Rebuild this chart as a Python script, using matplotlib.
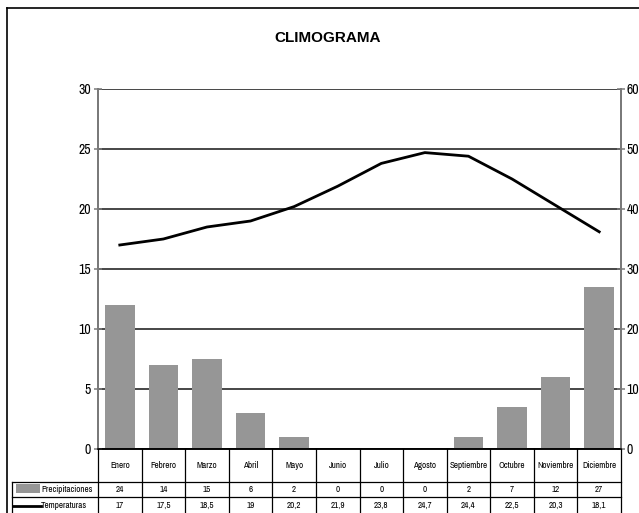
import matplotlib
matplotlib.use("Agg")
import matplotlib.pyplot as plt
import matplotlib.transforms as mtransforms
from matplotlib.patches import Rectangle
from matplotlib.lines import Line2D

months = ["Enero", "Febrero", "Marzo", "Abril", "Mayo", "Junio", "Julio",
          "Agosto", "Septiembre", "Octubre", "Noviembre", "Diciembre"]
precip = [24, 14, 15, 6, 2, 0, 0, 0, 2, 7, 12, 27]
temps = [17, 17.5, 18.5, 19, 20.2, 21.9, 23.8, 24.7, 24.4, 22.5, 20.3, 18.1]
temp_ticks = [0, 5, 10, 15, 20, 25, 30]
precip_ticks = [0, 10, 20, 30, 40, 50, 60]

W, H = 639, 513
BAR_COLOR = "#969696"
AXIS_COLOR = "#7a7a7a"
NARROW = ["Archivo Narrow", "PT Sans Narrow", "DejaVu Sans"]

plt.rcParams["font.family"] = NARROW


def fx(px):
    return px / W


def fy(py):
    return 1 - py / H


def fmt(v):
    return f"{v:g}".replace(".", ",")


fig = plt.figure(figsize=(W / 100, H / 100), dpi=100)

# plot area
ax = fig.add_axes([fx(98), fy(449), (621 - 98) / W, (449 - 89) / H])
ax2 = ax.twinx()
x = list(range(len(months)))

ax2.bar(x, precip, width=0.68, color=BAR_COLOR, zorder=2)
ax2.set_ylim(0, 60)
ax2.set_yticks(precip_ticks)
ax2.yaxis.grid(True, color="#151515", linewidth=1.1)
ax2.set_axisbelow(True)

ax.plot(x, temps, color="black", linewidth=2, zorder=5)
ax.set_ylim(0, 30)
ax.set_yticks(temp_ticks)
ax.set_xlim(-0.5, len(months) - 0.5)
ax.set_xticks([])
ax.set_zorder(ax2.get_zorder() + 1)
ax.patch.set_visible(False)

for a in (ax, ax2):
    for s in a.spines.values():
        s.set_color(AXIS_COLOR)
        s.set_linewidth(1.4)
    a.spines["top"].set_visible(False)
    a.spines["bottom"].set_color("black")
    a.spines["bottom"].set_linewidth(1.1)
ax.tick_params(axis="y", direction="inout", length=6, width=1.1, pad=2,
               labelsize=10, colors=AXIS_COLOR, labelcolor="black")
ax2.tick_params(axis="y", direction="inout", length=6, width=1.1, pad=1,
                labelsize=10, colors=AXIS_COLOR, labelcolor="black")

fig.text(fx(328), fy(38), "CLIMOGRAMA", ha="center", va="center",
         fontsize=11, fontweight="bold", family=["Liberation Sans", "DejaVu Sans"])

# data table under the plot
tr = mtransforms.blended_transform_factory(ax.transData, fig.transFigure)
y0, y1, y2, y3 = 449, 482, 497, 513
lc = "black"
for i in range(len(months) + 1):
    b = i - 0.5
    fig.add_artist(Line2D([b, b], [fy(y0), fy(y3)], transform=tr,
                          color=lc, linewidth=0.9, clip_on=False))
fig.add_artist(Line2D([fx(12), fx(12)], [fy(y1), fy(y3)], color=lc,
                      linewidth=0.9))
for yy in (y1, y2):
    fig.add_artist(Line2D([fx(12), fx(621)], [fy(yy), fy(yy)], color=lc,
                          linewidth=0.9))

for i, m in enumerate(months):
    fig.text(i, fy(465), m, transform=tr, ha="center", va="center", fontsize=6.5)
    fig.text(i, fy(489.5), fmt(precip[i]), transform=tr, ha="center",
             va="center", fontsize=6.5)
    fig.text(i, fy(505.5), fmt(temps[i]), transform=tr, ha="center",
             va="center", fontsize=6.5)

fig.add_artist(Rectangle((fx(16), fy(493)), (40 - 16) / W, 9 / H,
                         facecolor=BAR_COLOR, edgecolor="none"))
fig.add_artist(Line2D([fx(13), fx(41)], [fy(506), fy(506)], color="black",
                      linewidth=2))
fig.text(fx(41), fy(489.5), "Precipitaciones", ha="left", va="center",
         fontsize=6.5)
fig.text(fx(41), fy(505.5), "Temperaturas", ha="left", va="center",
         fontsize=6.5)

# chart frame
fig.add_artist(Line2D([fx(7), fx(7)], [fy(8), fy(H + 5)], color="black",
                      linewidth=1.2))
fig.add_artist(Line2D([fx(7), fx(W + 5)], [fy(8), fy(8)], color="black",
                      linewidth=1.2))

fig.savefig("out.png", dpi=100, facecolor="white")
